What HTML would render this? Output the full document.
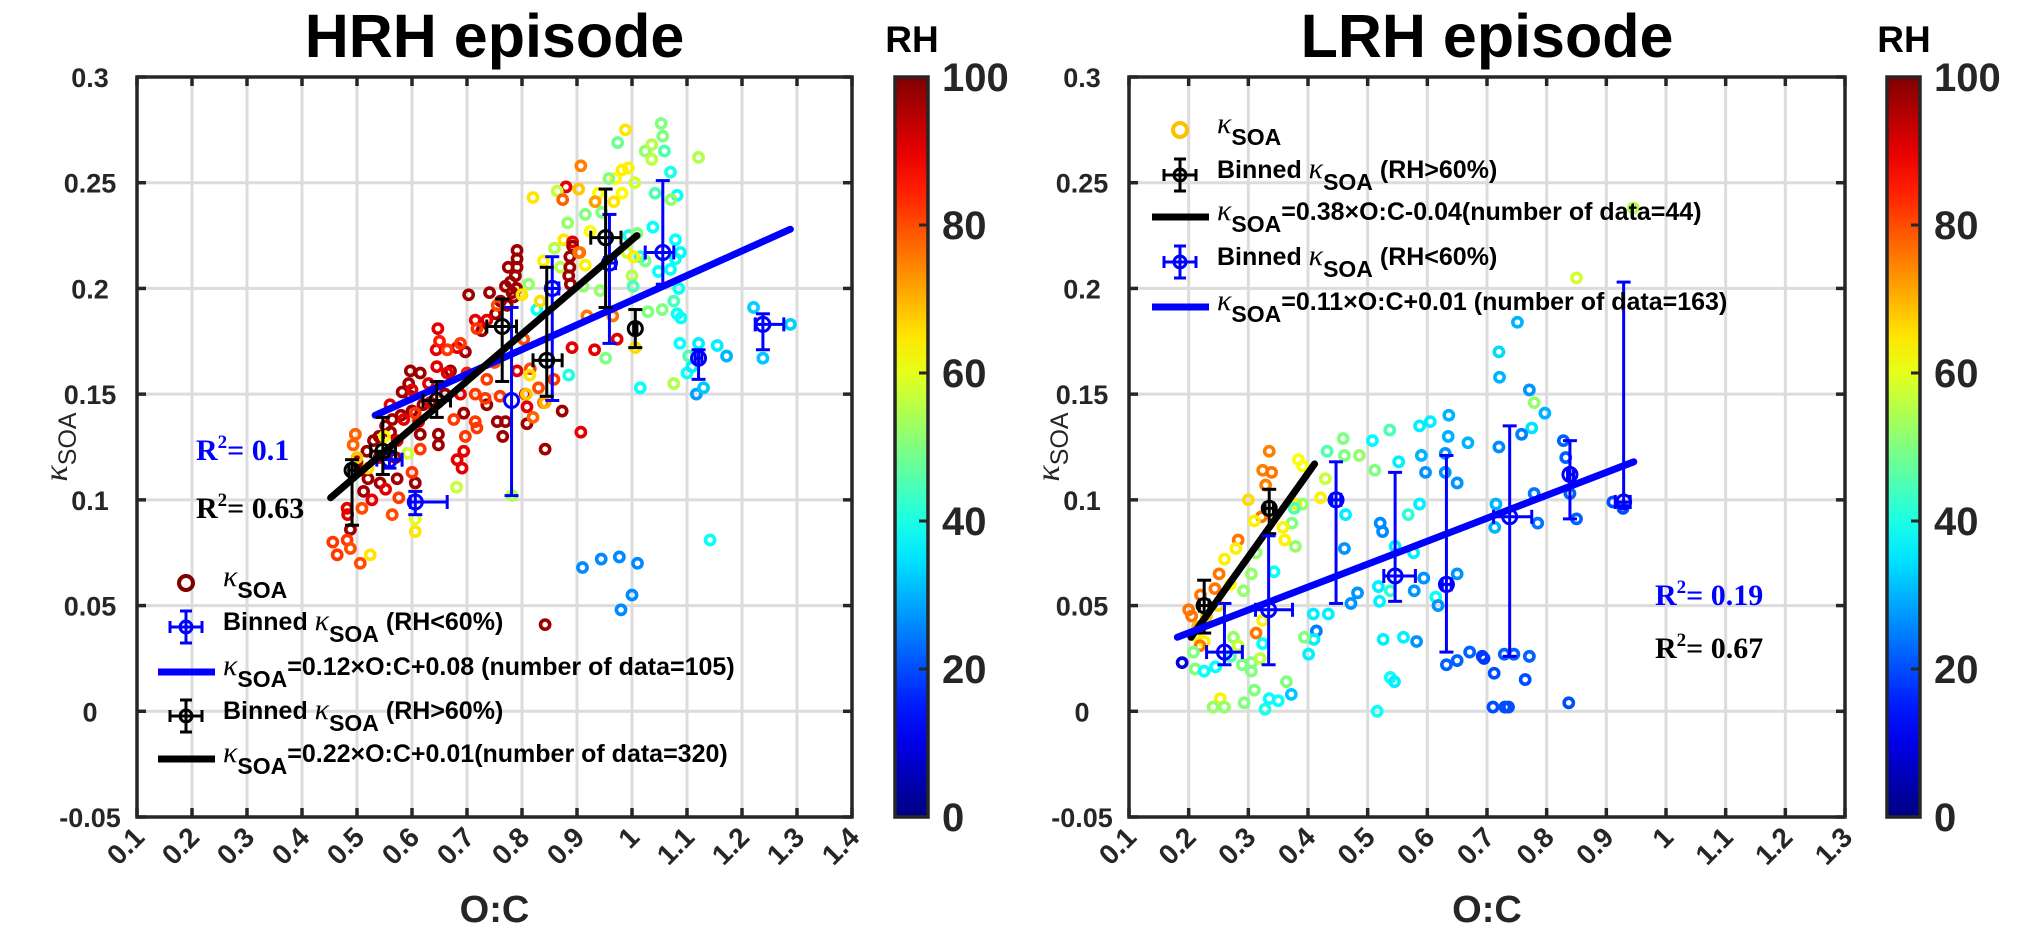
<!DOCTYPE html>
<html><head><meta charset="utf-8"><title>kappa SOA vs O:C</title>
<style>
html,body{margin:0;padding:0;background:#fff;}
svg{display:block;font-family:"Liberation Sans",Arial,sans-serif;}
</style></head>
<body>
<svg id="fig" width="2018" height="938" viewBox="0 0 2018 938" xmlns="http://www.w3.org/2000/svg">
<defs>
<linearGradient id="jetgrad" x1="0" y1="1" x2="0" y2="0"></linearGradient>
</defs>
<g id="layer"></g>
</svg>
<script>
// ---------- data ----------
const xTickValues = [0.1,0.2,0.3,0.4,0.5,0.6,0.7,0.8,0.9,1.0,1.1,1.2,1.3,1.4];
const xTickLabels = ['0.1','0.2','0.3','0.4','0.5','0.6','0.7','0.8','0.9','1','1.1','1.2','1.3','1.4'];
const yTickValues = [-0.05,0,0.05,0.1,0.15,0.2,0.25,0.3];
const yTickLabels = ['-0.05','0','0.05','0.1','0.15','0.2','0.25','0.3'];
const cbTickValues = [0,20,40,60,80,100];
const cbTickLabels = ['0','20','40','60','80','100'];

// HRH scatter: [O:C, kappa, RH]
const hrhPoints = [
[.988,.275,65],[1.053,.278,50],[1.056,.272,50],[.974,.269,48],[1.024,.265,52],[1.036,.268,55],[1.059,.265,45],[1.036,.261,56],[1.121,.262,55],[.907,.258,75],[1.07,.255,40],[.993,.257,64],[.982,.256,64],[.97,.252,63],[.958,.252,50],[1.005,.25,58],[.88,.248,90],[.903,.247,68],[.864,.246,57],[.82,.243,65],[.874,.242,78],[.982,.245,63],[.939,.245,63],[.967,.241,65],[.933,.241,72],[1.042,.245,45],[1.082,.244,38],[1.071,.242,52],[.915,.235,50],[.883,.231,52],[.945,.236,50],[1.038,.229,38],[.994,.225,40],[1.009,.226,50],[.924,.227,62],[.876,.223,65],[.892,.222,90],[.892,.22,97],[.905,.217,78],[.859,.219,55],[1.015,.215,38],[1.048,.208,38],[1.07,.209,38],[1.079,.214,38],[1.088,.217,37],[1.079,.223,38],[1.024,.213,50],[.991,.217,58],[1.0,.206,55],[1.002,.201,45],[1.085,.2,38],[1.076,.194,45],[1.082,.188,38],[1.089,.186,38],[1.055,.19,50],[1.029,.189,50],[1.003,.215,64],[.915,.211,64],[.87,.21,55],[.839,.213,64],[.812,.202,52],[.798,.198,64],[.827,.19,38],[.833,.194,66],[.911,.201,52],[.942,.199,52],[.918,.187,76],[.965,.187,76],[.973,.176,90],[.932,.171,90],[.891,.172,90],[.952,.167,50],[.885,.159,40],[1.015,.153,38],[1.076,.155,55],[1.087,.174,38],[1.121,.174,36],[1.155,.173,36],[1.172,.168,30],[1.103,.168,45],[1.1,.16,38],[1.109,.163,36],[1.117,.15,28],[1.13,.153,32],[1.221,.191,33],[1.288,.183,33],[1.238,.167,32],[1.142,.081,38],[.91,.068,26],[.944,.072,26],[.977,.073,26],[1.01,.07,26],[1.0,.055,26],[.98,.048,26],[.842,.041,97],
[.791,.218,97],[.791,.214,97],[.791,.21,97],[.788,.206,97],[.779,.203,97],[.77,.201,97],[.782,.198,97],[.703,.197,97],[.741,.198,97],[.761,.194,97],[.773,.192,97],[.887,.215,97],[.887,.21,97],[.885,.206,97],[.888,.202,97],[.727,.18,97],[.752,.188,97],[.697,.17,97],[.67,.161,97],[.597,.161,97],[.615,.16,97],[.594,.155,97],[.582,.151,97],[.597,.149,97],[.564,.138,97],[.552,.135,97],[.561,.132,97],[.53,.128,97],[.518,.123,97],[.506,.114,97],[.542,.108,97],[.573,.11,97],[.606,.108,97],[.648,.131,97],[.648,.126,97],[.736,.145,97],[.755,.137,97],[.77,.137,97],[.809,.136,97],[.765,.13,97],[.873,.142,97],[.842,.124,97],[.694,.141,97],[.615,.131,97],[.512,.104,97],[.488,.086,97],[.79,.2,97],[.785,.196,97],[.775,.21,97],[.62,.145,97],[.58,.14,97],[.54,.13,97],[.6,.142,97],[.66,.15,97],[.5,.118,97],[.52,.11,97],[.57,.12,97],
[.647,.181,90],[.644,.171,90],[.664,.171,90],[.682,.172,90],[.715,.185,90],[.736,.185,90],[.645,.163,90],[.664,.16,90],[.688,.15,90],[.633,.146,90],[.612,.137,90],[.585,.138,90],[.573,.128,90],[.694,.123,90],[.682,.119,90],[.691,.115,90],[.791,.161,90],[.806,.15,90],[.809,.144,90],[.907,.132,90],[.527,.1,90],[.552,.105,90],[.482,.096,90],[.483,.093,90],[.6,.152,90],[.56,.145,90],[.54,.12,90],[.63,.155,90],
[.688,.174,82],[.664,.171,82],[.718,.181,82],[.736,.157,82],[.715,.15,82],[.733,.148,82],[.76,.149,82],[.715,.137,82],[.718,.134,82],[.697,.13,82],[.676,.138,82],[.606,.141,82],[.615,.124,82],[.6,.113,82],[.576,.101,82],[.564,.093,80],[.509,.096,80],[.497,.131,78],[.493,.126,78],[.456,.08,82],[.464,.074,82],[.482,.081,82],[.506,.07,80],[.488,.077,80],[.815,.162,80],[.83,.153,80],[.858,.157,82],[.839,.146,78],[.82,.139,78],[.803,.176,80],[.755,.192,80],[.903,.217,76],[.65,.175,85],[.7,.16,85],[.75,.165,80],
[.524,.074,65],[.606,.085,65],[.606,.091,60],[.814,.159,65],[.808,.15,68],[.842,.146,70],[.8,.197,65],[1.006,.172,66],[.592,.122,58],[.681,.106,57],[.782,.102,55],[.5,.12,68],[.52,.115,66],[.55,.13,62]
];

// LRH scatter: [O:C, kappa, RH]
const lrhPoints = [
[.751,.184,30],[.72,.17,34],[.721,.158,30],[.771,.152,27],[.779,.146,52],[.797,.141,30],[.775,.134,35],[.758,.131,25],[.636,.14,30],[.605,.137,36],[.587,.135,36],[.537,.133,45],[.508,.128,37],[.459,.129,50],[.635,.13,30],[.668,.127,30],[.72,.125,26],[.828,.128,22],[.832,.12,22],[.839,.103,22],[.85,.091,22],[.911,.099,20],[.928,.096,20],[.779,.103,24],[.785,.089,24],[.715,.098,30],[.713,.087,30],[.63,.122,27],[.59,.121,30],[.597,.113,27],[.63,.113,27],[.65,.108,27],[.552,.118,36],[.512,.114,50],[.486,.121,52],[.432,.123,45],[.461,.121,50],[.587,.098,36],[.568,.093,42],[.521,.089,26],[.525,.085,26],[.463,.093,36],[.461,.077,27],[.546,.078,36],[.577,.075,36],[.518,.059,36],[.483,.056,27],[.472,.051,27],[.52,.052,36],[.538,.057,42],[.578,.057,27],[.594,.063,27],[.614,.054,38],[.618,.05,27],[.65,.065,27],[.409,.046,36],[.434,.046,36],[.414,.038,25],[.41,.034,36],[.394,.035,50],[.401,.027,36],[.526,.034,36],[.56,.035,36],[.582,.033,27],[.538,.016,38],[.545,.014,36],[.516,.0,38],[.671,.028,22],[.65,.024,22],[.632,.022,22],[.692,.026,18],[.695,.025,18],[.712,.018,20],[.729,.027,22],[.745,.027,22],[.771,.026,22],[.764,.015,20],[.71,.002,20],[.73,.002,20],[.736,.002,20],[.837,.004,20],[.85,.205,58],[.945,.238,55],
[.335,.123,75],[.324,.114,75],[.339,.113,76],[.329,.107,75],[.384,.119,62],[.391,.116,62],[.429,.11,57],[.421,.101,64],[.38,.098,64],[.391,.098,52],[.377,.096,45],[.373,.089,50],[.358,.087,64],[.361,.081,64],[.379,.078,52],[.322,.092,76],[.283,.081,76],[.279,.077,64],[.313,.075,52],[.26,.072,64],[.305,.065,52],[.343,.066,38],[.251,.065,76],[.244,.058,76],[.292,.057,52],[.2,.048,76],[.205,.045,76],[.211,.036,64],[.226,.033,64],[.219,.031,76],[.275,.035,52],[.283,.031,57],[.313,.037,76],[.324,.043,64],[.324,.032,38],[.208,.028,50],[.211,.02,50],[.226,.019,38],[.245,.021,38],[.27,.026,45],[.29,.022,50],[.305,.023,50],[.32,.025,56],[.305,.019,50],[.189,.023,8],[.364,.014,50],[.31,.01,50],[.253,.006,64],[.241,.002,52],[.26,.002,52],[.293,.004,50],[.328,.001,40],[.335,.006,38],[.35,.005,38],[.372,.008,32],[.215,.04,70],[.23,.045,68],[.25,.05,66],[.27,.06,62],[.22,.055,76],[.3,.1,66],[.31,.09,64]
];

// HRH binned, RH<60 (blue)
const hrhBlueOC   = [.559,.606,.781,.855,.959,1.056,1.121,1.238];
const hrhBlueK    = [.119,.099,.147,.200,.212,.217,.167,.183];
const hrhBlueKLo  = [.115,.093,.102,.147,.174,.202,.157,.171];
const hrhBlueKHi  = [.123,.104,.191,.215,.235,.251,.171,.188];
const hrhBlueOCLo = [.536,.597,.781,.845,.950,1.024,1.115,1.224];
const hrhBlueOCHi = [.582,.664,.781,.867,.970,1.076,1.127,1.276];
// HRH binned, RH>60 (black)
const hrhBlackOC   = [.491,.547,.645,.764,.845,.952,1.006];
const hrhBlackK    = [.114,.123,.147,.182,.166,.224,.181];
const hrhBlackKLo  = [.088,.112,.139,.156,.149,.191,.172];
const hrhBlackKHi  = [.119,.139,.156,.195,.210,.247,.190];
const hrhBlackOCLo = [.485,.525,.620,.736,.820,.925,1.003];
const hrhBlackOCHi = [.497,.570,.670,.790,.873,.980,1.009];
// HRH fits
const hrhBlueFitOC = [.533,1.288];  const hrhBlueFitK = [.140,.228];
const hrhBlackFitOC = [.452,1.009]; const hrhBlackFitK = [.101,.225];

// LRH binned RH>60 (black)
const lrhBlackOC   = [.226,.335];
const lrhBlackK    = [.050,.096];
const lrhBlackKLo  = [.037,.084];
const lrhBlackKHi  = [.062,.105];
const lrhBlackOCLo = [.218,.328];
const lrhBlackOCHi = [.234,.342];
// LRH binned RH<60 (blue)
const lrhBlueOC   = [.260,.334,.447,.546,.632,.738,.839,.929];
const lrhBlueK    = [.028,.048,.100,.064,.060,.092,.112,.099];
const lrhBlueKLo  = [.022,.022,.051,.052,.028,.026,.091,.097];
const lrhBlueKHi  = [.051,.083,.118,.113,.121,.135,.128,.203];
const lrhBlueOCLo = [.230,.312,.440,.527,.625,.711,.835,.915];
const lrhBlueOCHi = [.290,.374,.455,.580,.640,.775,.845,.940];
// LRH fits
const lrhBlackFitOC = [.204,.411]; const lrhBlackFitK = [.035,.117];
const lrhBlueFitOC = [.181,.946];  const lrhBlueFitK = [.035,.118];

// ---------- helpers ----------
const NS = 'http://www.w3.org/2000/svg';
const root = document.getElementById('layer');
function mk(tag, attrs, parent) {
  const e = document.createElementNS(NS, tag);
  for (const k in attrs) e.setAttribute(k, attrs[k]);
  (parent || root).appendChild(e);
  return e;
}
function jet(v) {
  const t = Math.max(0, Math.min(1, v / 100));
  const c = x => Math.round(255 * Math.max(0, Math.min(1, 1.5 - Math.abs(x))));
  return 'rgb(' + c(4 * t - 3) + ',' + c(4 * t - 2) + ',' + c(4 * t - 1) + ')';
}
const FONT = '"Liberation Sans", Arial, sans-serif';
const YT = 77, YB = 817, KMIN = -0.05, KMAX = 0.3;
function yScale(k) { return YB - (k - KMIN) / (KMAX - KMIN) * (YB - YT); }

const grad = document.getElementById('jetgrad');
for (let i = 0; i <= 20; i++) {
  const s = document.createElementNS(NS, 'stop');
  s.setAttribute('offset', (i / 20));
  s.setAttribute('stop-color', jet(i * 5));
  grad.appendChild(s);
}

function drawPanel(cfg) {
  const g = mk('g', {});
  
  
  const xs = oc => cfg.x0 + (oc - cfg.xmin) / (cfg.xmax - cfg.xmin) * (cfg.x1 - cfg.x0);
  const grid = mk('g', {stroke: '#dcdcdc', 'stroke-width': 3}, g);
  
  
  xTickValues.forEach(v => { if (v > cfg.xmin + 1e-9 && v < cfg.xmax - 1e-9) mk('line', {x1: xs(v), x2: xs(v), y1: YT, y2: YB}, grid); });
  yTickValues.forEach(v => { if (v > KMIN + 1e-9 && v < KMAX - 1e-9) mk('line', {x1: cfg.x0, x2: cfg.x1, y1: yScale(v), y2: yScale(v)}, grid); });
  const sc = mk('g', {fill: 'none', 'stroke-width': 3.6}, g);
  
  
  cfg.points.forEach(p => {
    const c = mk('circle', {cx: xs(p[0]), cy: yScale(p[1]), r: 4.6, stroke: jet(p[2])}, sc);
    
    
  });
  function binned(color, oc, k, klo, khi, oclo, ochi, nm) {
    const bg = mk('g', {stroke: color, 'stroke-width': 3, fill: 'none'}, g);
    
    
    for (let i = 0; i < oc.length; i++) {
      const cx = xs(oc[i]), cy = yScale(k[i]);
      const yl = yScale(klo[i]), yh = yScale(khi[i]);
      const xl = xs(oclo[i]), xh = xs(ochi[i]);
      mk('line', {x1: cx, x2: cx, y1: yl, y2: yh}, bg);
      mk('line', {x1: cx - 7, x2: cx + 7, y1: yl, y2: yl}, bg);
      mk('line', {x1: cx - 7, x2: cx + 7, y1: yh, y2: yh}, bg);
      if (xh - xl > 1) {
        mk('line', {x1: xl, x2: xh, y1: cy, y2: cy}, bg);
        mk('line', {x1: xl, x2: xl, y1: cy - 7, y2: cy + 7}, bg);
        mk('line', {x1: xh, x2: xh, y1: cy - 7, y2: cy + 7}, bg);
      }
      mk('circle', {cx: cx, cy: cy, r: 7}, bg);
    }
  }
  function fit(color, ocs, ks, nm) {
    const l = mk('line', {x1: xs(ocs[0]), y1: yScale(ks[0]), x2: xs(ocs[1]), y2: yScale(ks[1]), stroke: color, 'stroke-width': 7, 'stroke-linecap': 'round'}, g);
    
    
  }
  cfg.draw(binned, fit);
  const ax = mk('g', {stroke: '#262626', 'stroke-width': 3.5, fill: 'none'}, g);
  
  
  mk('rect', {x: cfg.x0, y: YT, width: cfg.x1 - cfg.x0, height: YB - YT}, ax);
  xTickValues.forEach(v => {
    if (v > cfg.xmax + 1e-9) return;
    mk('line', {x1: xs(v), x2: xs(v), y1: YB, y2: YB - 9}, ax);
    mk('line', {x1: xs(v), x2: xs(v), y1: YT, y2: YT + 9}, ax);
  });
  yTickValues.forEach(v => {
    mk('line', {x1: cfg.x0, x2: cfg.x0 + 9, y1: yScale(v), y2: yScale(v)}, ax);
    mk('line', {x1: cfg.x1, x2: cfg.x1 - 9, y1: yScale(v), y2: yScale(v)}, ax);
  });
  xTickValues.forEach((v, i) => {
    if (v > cfg.xmax + 1e-9) return;
    const tx = xs(v) + 9, ty = YB + 22;
    const t = mk('text', {x: tx, y: ty, 'text-anchor': 'end', 'font-size': 28, 'font-weight': 'bold', fill: '#262626', transform: 'rotate(-45 ' + tx + ' ' + ty + ')', 'font-family': FONT}, g);
    t.textContent = xTickLabels[i];
    
    
  });
  yTickValues.forEach((v, i) => {
    const t = mk('text', {x: cfg.x0 - 47, y: yScale(v) + 10, 'text-anchor': 'middle', 'font-size': 27, 'font-weight': 'bold', fill: '#262626', 'font-family': FONT}, g);
    t.textContent = yTickLabels[i];
    
    
  });
  const cxm = (cfg.x0 + cfg.x1) / 2;
  const ti = mk('text', {x: cxm, y: 57, 'text-anchor': 'middle', 'font-size': 61, 'font-weight': 'bold', fill: '#000', 'font-family': FONT}, g);
  ti.textContent = cfg.title;
  
  
  const xl = mk('text', {x: cxm, y: 922, 'text-anchor': 'middle', 'font-size': 38, 'font-weight': 'bold', fill: '#262626', 'font-family': FONT}, g);
  xl.textContent = 'O:C';
  
  
  const yx = cfg.x0 - 70, yy = 447;
  const yl = mk('text', {x: yx, y: yy, 'text-anchor': 'middle', 'font-size': 34, fill: '#262626', transform: 'rotate(-90 ' + yx + ' ' + yy + ')', 'font-family': FONT}, g);
  yl.innerHTML = '<tspan font-style="italic" font-family="Liberation Serif, serif">κ</tspan><tspan font-size="25" dy="9">SOA</tspan>';
  
  
  const cb = mk('g', {}, g);
  
  
  mk('rect', {x: cfg.cbx, y: YT, width: 33, height: YB - YT, fill: 'url(#jetgrad)', stroke: '#262626', 'stroke-width': 3.5}, cb);
  cbTickValues.forEach((v, i) => {
    const y = YB - v / 100 * (YB - YT);
    if (v > 0 && v < 100) mk('line', {x1: cfg.cbx + 33, x2: cfg.cbx + 24, y1: y, y2: y, stroke: '#262626', 'stroke-width': 3}, cb);
    const t = mk('text', {x: cfg.cbx + 47, y: y + 14, 'font-size': 40, 'font-weight': 'bold', fill: '#262626', 'font-family': FONT}, cb);
    t.textContent = cbTickLabels[i];
    
    
  });
  const rh = mk('text', {x: cfg.cbx + 17, y: 52, 'text-anchor': 'middle', 'font-size': 37, 'font-weight': 'bold', fill: '#000', 'font-family': FONT}, cb);
  rh.textContent = 'RH';
  
  
  const lg = mk('g', {'font-family': FONT, 'font-weight': 'bold', 'font-size': 25, fill: '#000'}, g);
  
  
  cfg.legend.forEach((e, i) => {
    const y = cfg.legY[i], mx = cfg.legX, tx = cfg.legX + 37;
    const eg = mk('g', {}, lg);
    
    
    if (e.type === 'marker') {
      mk('circle', {cx: mx, cy: y, r: 7, fill: 'none', stroke: e.color, 'stroke-width': 4}, eg);
    } else if (e.type === 'bin') {
      const s = {stroke: e.color, 'stroke-width': 3, fill: 'none'};
      mk('line', Object.assign({x1: mx, x2: mx, y1: y - 16, y2: y + 16}, s), eg);
      mk('line', Object.assign({x1: mx - 6, x2: mx + 6, y1: y - 16, y2: y - 16}, s), eg);
      mk('line', Object.assign({x1: mx - 6, x2: mx + 6, y1: y + 16, y2: y + 16}, s), eg);
      mk('line', Object.assign({x1: mx - 16, x2: mx + 16, y1: y, y2: y}, s), eg);
      mk('line', Object.assign({x1: mx - 16, x2: mx - 16, y1: y - 6, y2: y + 6}, s), eg);
      mk('line', Object.assign({x1: mx + 16, x2: mx + 16, y1: y - 6, y2: y + 6}, s), eg);
      mk('circle', Object.assign({cx: mx, cy: y, r: 6}, s), eg);
    } else {
      mk('line', {x1: mx - 28, x2: mx + 29, y1: y, y2: y, stroke: e.color, 'stroke-width': 7}, eg);
    }
    const t = mk('text', {x: tx, y: y + 3}, eg);
    t.innerHTML = e.pre + '<tspan font-style="italic" font-weight="normal" font-family="Liberation Serif, serif" font-size="30">κ</tspan><tspan font-size="23" dy="12">SOA</tspan><tspan dy="-12">' + e.post + '</tspan>';
  });
  cfg.r2.forEach(r => {
    const t = mk('text', {x: r.x, y: r.y, 'font-family': '"Liberation Serif", serif', 'font-weight': 'bold', 'font-size': 30, fill: r.color}, g);
    t.innerHTML = 'R<tspan font-size="19" dy="-12">2</tspan><tspan dy="12">= ' + r.v + '</tspan>';
    
    
  });
}

drawPanel({
  name: 'hrh-panel', title: 'HRH episode', x0: 137, x1: 852, xmin: 0.1, xmax: 1.4, cbx: 895,
  points: hrhPoints,
  draw: (binned, fit) => {
    binned('#0000ff', hrhBlueOC, hrhBlueK, hrhBlueKLo, hrhBlueKHi, hrhBlueOCLo, hrhBlueOCHi, 'binned-rh-below-60');
    fit('#0000ff', hrhBlueFitOC, hrhBlueFitK, 'fit-line-rh-below-60');
    binned('#000000', hrhBlackOC, hrhBlackK, hrhBlackKLo, hrhBlackKHi, hrhBlackOCLo, hrhBlackOCHi, 'binned-rh-above-60');
    fit('#000000', hrhBlackFitOC, hrhBlackFitK, 'fit-line-rh-above-60');
  },
  legX: 186, legY: [583, 627, 672, 716, 759],
  legend: [
    {type: 'marker', color: '#800000', pre: '', post: ''},
    {type: 'bin', color: '#0000ff', pre: 'Binned ', post: ' (RH&lt;60%)'},
    {type: 'line', color: '#0000ff', pre: '', post: '=0.12×O:C+0.08 (number of data=105)'},
    {type: 'bin', color: '#000000', pre: 'Binned ', post: ' (RH&gt;60%)'},
    {type: 'line', color: '#000000', pre: '', post: '=0.22×O:C+0.01(number of data=320)'}
  ],
  r2: [{x: 196, y: 460, color: '#0000ff', v: '0.1'}, {x: 196, y: 518, color: '#000', v: '0.63'}]
});

drawPanel({
  name: 'lrh-panel', title: 'LRH episode', x0: 1129, x1: 1845, xmin: 0.1, xmax: 1.3, cbx: 1887,
  points: lrhPoints,
  draw: (binned, fit) => {
    binned('#000000', lrhBlackOC, lrhBlackK, lrhBlackKLo, lrhBlackKHi, lrhBlackOCLo, lrhBlackOCHi, 'binned-rh-above-60');
    fit('#000000', lrhBlackFitOC, lrhBlackFitK, 'fit-line-rh-above-60');
    binned('#0000ff', lrhBlueOC, lrhBlueK, lrhBlueKLo, lrhBlueKHi, lrhBlueOCLo, lrhBlueOCHi, 'binned-rh-below-60');
    fit('#0000ff', lrhBlueFitOC, lrhBlueFitK, 'fit-line-rh-below-60');
  },
  legX: 1180, legY: [130, 175, 217, 262, 307],
  legend: [
    {type: 'marker', color: '#ffc000', pre: '', post: ''},
    {type: 'bin', color: '#000000', pre: 'Binned ', post: ' (RH&gt;60%)'},
    {type: 'line', color: '#000000', pre: '', post: '=0.38×O:C-0.04(number of data=44)'},
    {type: 'bin', color: '#0000ff', pre: 'Binned ', post: ' (RH&lt;60%)'},
    {type: 'line', color: '#0000ff', pre: '', post: '=0.11×O:C+0.01 (number of data=163)'}
  ],
  r2: [{x: 1655, y: 605, color: '#0000ff', v: '0.19'}, {x: 1655, y: 658, color: '#000', v: '0.67'}]
});
</script>
</body></html>
